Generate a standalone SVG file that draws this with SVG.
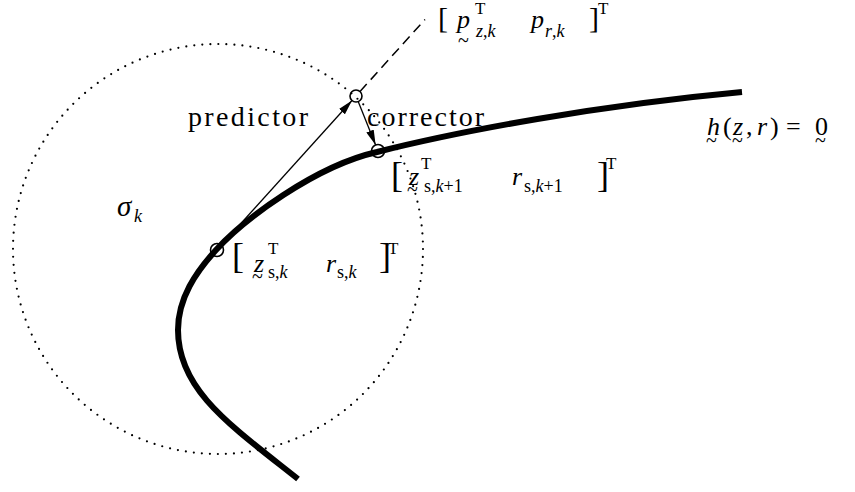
<svg xmlns="http://www.w3.org/2000/svg" width="855" height="492" viewBox="0 0 855 492">
<style>
.t{font-family:"Liberation Serif","Times New Roman",serif;font-size:26px;fill:#000}
.i{font-style:italic}
.sub{font-size:18px}
.sup{font-size:17px}
.br{font-size:36px}
.til{font-size:20px}
.w{font-size:28px}
.pt{fill:none;stroke:#000;stroke-width:1.6}
.thin{fill:none;stroke:#000;stroke-width:1.3}
</style>
<defs>
<marker id="ah" markerUnits="userSpaceOnUse" markerWidth="15" markerHeight="8" refX="15" refY="4" orient="auto">
<path d="M0,0 L15,4 L0,8 z" fill="#000"/>
</marker>
</defs>
<rect width="855" height="492" fill="#fff"/>
<g id="trust-region">
<circle cx="218" cy="249" r="205" fill="none" stroke="#000" stroke-width="2.2" stroke-linecap="round" stroke-dasharray="0 8.05"/>
<text class="t i" x="117" y="216" style="font-size:29px">σ</text>
<text class="t i sub" x="134" y="222">k</text>
</g>
<g id="solution-curve">
<path d="M298,479 C230,425 178,390 178,330 C178,298 196,272 216,250 C243,220 315,166 377,152 C460,131 600,105 742,92" fill="none" stroke="#000" stroke-width="6"/>
<text class="t i" x="707" y="135">h</text>
<text class="t til" x="706" y="147">~</text>
<text class="t" x="723" y="135">(</text>
<text class="t i" x="733" y="135">z</text>
<text class="t til" x="732" y="147">~</text>
<text class="t" x="746" y="135">,</text>
<text class="t i" x="757" y="135">r</text>
<text class="t" x="770" y="135">)</text>
<text class="t" x="786" y="135">=</text>
<text class="t" x="815" y="135">0</text>
<text class="t til" x="815" y="147">~</text>
</g>
<g id="connectors">
<line class="thin" x1="217" y1="250" x2="352" y2="100.5" marker-end="url(#ah)"/>
<line class="thin" x1="358.2" y1="101.6" x2="375.6" y2="145" marker-end="url(#ah)"/>
<line x1="360" y1="91.5" x2="425" y2="19.5" stroke="#000" stroke-width="1.5" stroke-dasharray="10 6"/>
</g>
<g id="start-point">
<circle class="pt" cx="217" cy="250" r="6.5"/>
<text class="t br" x="232" y="268">[</text>
<text class="t i" x="254" y="272">z</text>
<text class="t til" x="252" y="283">~</text>
<text class="t sup" x="268" y="254">T</text>
<text class="t sub" x="268" y="278"><tspan>s,</tspan><tspan class="i">k</tspan></text>
<text class="t i" x="326" y="272">r</text>
<text class="t sub" x="337" y="278"><tspan>s,</tspan><tspan class="i">k</tspan></text>
<text class="t br" x="379" y="268">]</text>
<text class="t sup" x="388" y="254">T</text>
</g>
<g id="predictor-point">
<circle class="pt" cx="356" cy="96" r="6"/>
<text class="t w" x="188" y="126" textLength="120" lengthAdjust="spacing">predictor</text>
<text class="t br" x="438" y="28" style="font-size:30px">[</text>
<text class="t i" x="457" y="28">p</text>
<text class="t til" x="458" y="47">~</text>
<text class="t sup" x="475" y="14">T</text>
<text class="t sub" x="476" y="37"><tspan class="i">z</tspan><tspan>,</tspan><tspan class="i">k</tspan></text>
<text class="t i" x="531" y="28">p</text>
<text class="t sub" x="545" y="37"><tspan class="i">r</tspan><tspan>,</tspan><tspan class="i">k</tspan></text>
<text class="t br" x="589" y="28" style="font-size:30px">]</text>
<text class="t sup" x="598" y="14">T</text>
</g>
<g id="corrector-point">
<circle class="pt" cx="378" cy="151" r="6.5"/>
<text class="t w" x="367" y="126" textLength="117" lengthAdjust="spacing">corrector</text>
<text class="t br" x="391" y="187">[</text>
<text class="t i" x="409" y="185">z</text>
<text class="t til" x="407" y="196">~</text>
<text class="t sup" x="421" y="169">T</text>
<text class="t sub" x="424" y="192"><tspan>s,</tspan><tspan class="i">k</tspan><tspan>+1</tspan></text>
<text class="t i" x="512" y="185">r</text>
<text class="t sub" x="524" y="192"><tspan>s,</tspan><tspan class="i">k</tspan><tspan>+1</tspan></text>
<text class="t br" x="597" y="187">]</text>
<text class="t sup" x="606" y="169">T</text>
</g>
</svg>
